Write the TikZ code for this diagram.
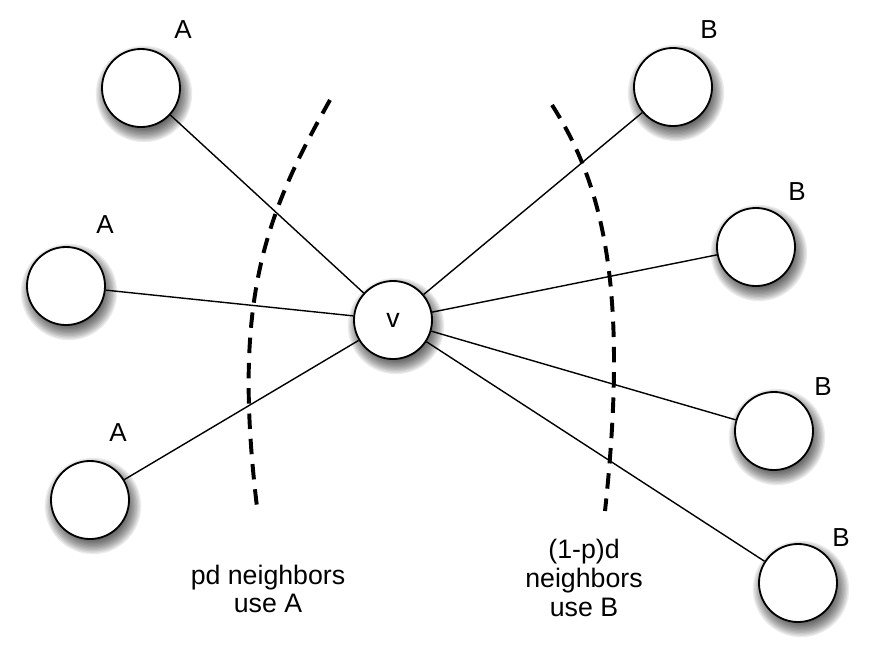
\documentclass[tikz,border=0pt]{standalone}
\usepackage{fontspec}
\setmainfont{Liberation Sans}
\usetikzlibrary{backgrounds}
\tikzset{
	player/.style={circle, draw, line width=1.3pt, fill=white, minimum size=1.95cm, inner sep=0pt},
	lbl/.style={font=\fontsize{18.5}{20}\selectfont},
	cut/.style={line width=2.8pt, dash pattern=on 11pt off 7pt},
	note/.style={align=center, font=\fontsize{19}{20.5}\selectfont}
}
\begin{document}
\begin{tikzpicture}[x=.025cm,y=-.025cm]
		\useasboundingbox (0,0) rectangle (871,654);
		\node [player, font=\fontsize{19}{20}\selectfont] (v) at (393,320) {v};
		\foreach \n/\x/\y/\lx/\ly/\t in {a1/141/88/183/30/A, a2/66/286/105/225/A, a3/90/500/118/433/A,
			b1/673/87/709/30/B, b2/756/247/797/192/B, b3/774/431/823/387/B, b4/798/583/841/538/B} {
			\node [player] (\n) at (\x,\y) {};
			\node [lbl] (l\n) at (\lx,\ly) {\t};
		}
		\foreach \n in {a1, a2, a3, b1, b2, b3, b4} {
			\draw [line width=1pt] (v) -- (\n);
		}
		% soft shadows behind the circles
		\begin{scope}[on background layer]
			\foreach \n in {v, a1, a2, a3, b1, b2, b3, b4} {
				\foreach \i in {0,...,13} {
					\fill [black, opacity=.08] ([shift={(3,6)}]\n.center) circle [radius={0.75cm+\i*0.035cm}];
				}
			}
		\end{scope}
		% dividing cuts
		\draw [cut] (330,100) .. controls (265,215) and (232,300) .. (257,507);
		\draw [cut] (552,105) .. controls (600,180) and (630,280) .. (605,511);
		\node [note] (pA) at (268,589) {pd neighbors\\use A};
		\node [note] (pB) at (584,578) {(1-p)d\\neighbors\\use B};
	\end{tikzpicture}
\end{document}
